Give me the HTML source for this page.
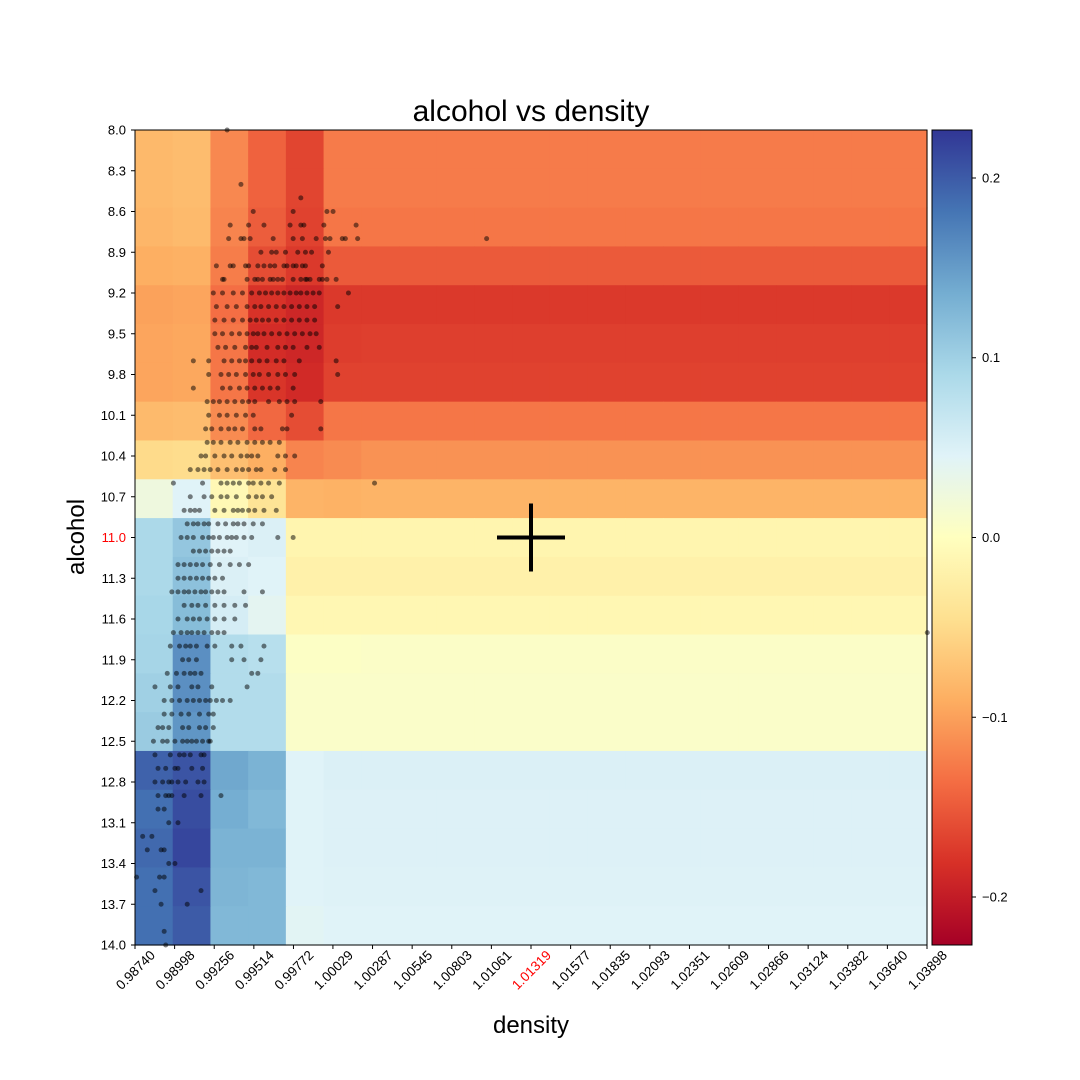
<!DOCTYPE html>
<html><head><meta charset="utf-8"><style>
html,body{margin:0;padding:0;background:#fff;}
svg{display:block;font-family:"Liberation Sans","DejaVu Sans",sans-serif;}
</style></head><body>
<svg id="chart" width="1080" height="1080" viewBox="0 0 1080 1080" xmlns="http://www.w3.org/2000/svg">
<rect width="1080" height="1080" fill="#fff"/>
<text x="531" y="121" font-size="30" text-anchor="middle">alcohol vs density</text>
<text transform="translate(84,537) rotate(-90)" font-size="24" text-anchor="middle">alcohol</text>
<text x="531" y="1033" font-size="24" text-anchor="middle">density</text>
<g id="heat"></g>
<g id="dots"></g>
<g id="axes"></g>
<g id="cbar"></g>
</svg>
<script>
const xTickLabels=["0.98740","0.98998","0.99256","0.99514","0.99772","1.00029","1.00287","1.00545","1.00803","1.01061","1.01319","1.01577","1.01835","1.02093","1.02351","1.02609","1.02866","1.03124","1.03382","1.03640","1.03898"];
const yTickLabels=["8.0","8.3","8.6","8.9","9.2","9.5","9.8","10.1","10.4","10.7","11.0","11.3","11.6","11.9","12.2","12.5","12.8","13.1","13.4","13.7","14.0"];
const cbarTicks=[0.2,0.1,0.0,-0.1,-0.2];
const cbarTickLabels=["0.2","0.1","0.0","\u22120.1","\u22120.2"];
const markerDensity=1.01319;
const markerAlcohol=11.0;
const heatValues=[
[-0.081,-0.078,-0.117,-0.144,-0.166,-0.126,-0.126,-0.126,-0.126,-0.126,-0.126,-0.126,-0.126,-0.126,-0.126,-0.126,-0.126,-0.126,-0.126,-0.126,-0.126],
[-0.081,-0.078,-0.117,-0.144,-0.166,-0.126,-0.126,-0.126,-0.126,-0.126,-0.126,-0.126,-0.126,-0.126,-0.126,-0.126,-0.126,-0.126,-0.126,-0.126,-0.126],
[-0.083,-0.080,-0.120,-0.148,-0.168,-0.130,-0.130,-0.130,-0.130,-0.130,-0.130,-0.130,-0.130,-0.130,-0.130,-0.130,-0.130,-0.130,-0.130,-0.130,-0.130],
[-0.090,-0.088,-0.125,-0.160,-0.175,-0.150,-0.150,-0.150,-0.150,-0.150,-0.150,-0.150,-0.150,-0.150,-0.150,-0.150,-0.150,-0.150,-0.150,-0.150,-0.150],
[-0.099,-0.097,-0.135,-0.180,-0.190,-0.175,-0.175,-0.175,-0.175,-0.175,-0.175,-0.175,-0.175,-0.175,-0.175,-0.175,-0.175,-0.175,-0.175,-0.175,-0.175],
[-0.097,-0.095,-0.130,-0.185,-0.190,-0.172,-0.170,-0.170,-0.170,-0.170,-0.170,-0.170,-0.170,-0.170,-0.170,-0.170,-0.170,-0.170,-0.170,-0.170,-0.170],
[-0.097,-0.095,-0.130,-0.178,-0.187,-0.168,-0.168,-0.168,-0.168,-0.168,-0.168,-0.168,-0.168,-0.168,-0.168,-0.168,-0.168,-0.168,-0.168,-0.168,-0.168],
[-0.080,-0.078,-0.115,-0.140,-0.160,-0.130,-0.130,-0.130,-0.130,-0.130,-0.130,-0.130,-0.130,-0.130,-0.130,-0.130,-0.130,-0.130,-0.130,-0.130,-0.130],
[-0.050,-0.048,-0.075,-0.090,-0.120,-0.115,-0.110,-0.110,-0.110,-0.110,-0.110,-0.110,-0.110,-0.110,-0.110,-0.110,-0.110,-0.110,-0.110,-0.110,-0.110],
[0.025,0.045,-0.010,-0.040,-0.085,-0.087,-0.085,-0.085,-0.085,-0.085,-0.085,-0.085,-0.085,-0.085,-0.085,-0.085,-0.085,-0.085,-0.085,-0.085,-0.085],
[0.090,0.110,0.045,0.050,-0.015,-0.015,-0.015,-0.015,-0.015,-0.015,-0.015,-0.015,-0.015,-0.015,-0.015,-0.015,-0.015,-0.015,-0.015,-0.015,-0.015],
[0.090,0.115,0.050,0.045,-0.020,-0.020,-0.020,-0.020,-0.020,-0.020,-0.020,-0.020,-0.020,-0.020,-0.020,-0.020,-0.020,-0.020,-0.020,-0.020,-0.020],
[0.093,0.120,0.055,0.040,-0.012,-0.012,-0.012,-0.012,-0.012,-0.012,-0.012,-0.012,-0.012,-0.012,-0.012,-0.012,-0.012,-0.012,-0.012,-0.012,-0.012],
[0.095,0.160,0.085,0.080,0.005,0.005,0.006,0.006,0.006,0.006,0.006,0.006,0.006,0.006,0.006,0.006,0.006,0.006,0.006,0.006,0.006],
[0.100,0.160,0.085,0.085,0.008,0.008,0.008,0.008,0.008,0.008,0.008,0.008,0.008,0.008,0.008,0.008,0.008,0.008,0.008,0.008,0.008],
[0.105,0.155,0.085,0.085,0.008,0.008,0.008,0.008,0.008,0.008,0.008,0.008,0.008,0.008,0.008,0.008,0.008,0.008,0.008,0.008,0.008],
[0.195,0.205,0.140,0.130,0.045,0.050,0.050,0.050,0.050,0.050,0.050,0.050,0.050,0.050,0.050,0.050,0.050,0.050,0.050,0.050,0.050],
[0.185,0.210,0.135,0.125,0.045,0.048,0.048,0.048,0.048,0.048,0.048,0.048,0.048,0.048,0.048,0.048,0.048,0.048,0.048,0.048,0.048],
[0.190,0.215,0.130,0.130,0.045,0.048,0.048,0.048,0.048,0.048,0.048,0.048,0.048,0.048,0.048,0.048,0.048,0.048,0.048,0.048,0.048],
[0.185,0.205,0.128,0.125,0.045,0.047,0.047,0.047,0.047,0.047,0.047,0.047,0.047,0.047,0.047,0.047,0.047,0.047,0.047,0.047,0.047],
[0.185,0.200,0.125,0.125,0.042,0.045,0.045,0.045,0.045,0.045,0.045,0.045,0.045,0.045,0.045,0.045,0.045,0.045,0.045,0.045,0.045]
];
const alcoholLevels=[8.0,8.4,8.5,8.6,8.7,8.8,8.9,9.0,9.1,9.2,9.3,9.4,9.5,9.6,9.7,9.8,9.9,10.0,10.1,10.2,10.3,10.4,10.5,10.6,10.7,10.8,10.9,11.0,11.1,11.2,11.3,11.4,11.5,11.6,11.7,11.8,11.9,12.0,12.1,12.2,12.3,12.4,12.5,12.6,12.7,12.8,12.9,13.0,13.1,13.2,13.3,13.4,13.5,13.6,13.7,13.9,14.0];
const densityByLevel=[
[0.9934],[0.9943],[0.9982],
[0.9951,0.9977,0.9999,1.0003],
[0.9936,0.9948,0.9958,0.9975,0.9982,0.9984,0.9997,1.0018],
[0.9935,0.9943,0.9945,0.9949,0.9964,0.9977,0.9983,0.9992,0.9998,1.0001,1.0009,1.0011,1.0019,1.0103],
[0.9956,0.9963,0.9966,0.9972,0.9980,0.9985,0.9989,1.0000],
[0.9927,0.9936,0.9938,0.9946,0.9948,0.9954,0.9958,0.9962,0.9965,0.9971,0.9973,0.9977,0.9979,0.9983,0.9985,0.9996],
[0.9931,0.9932,0.9947,0.9952,0.9954,0.9957,0.9962,0.9964,0.9967,0.9970,0.9977,0.9982,0.9985,0.9986,0.9988,0.9994,0.9996,0.9999,1.0005],
[0.9925,0.9931,0.9938,0.9944,0.9950,0.9955,0.9959,0.9963,0.9967,0.9971,0.9975,0.9979,0.9982,0.9986,0.9990,0.9994,1.0013],
[0.9927,0.9934,0.9940,0.9947,0.9952,0.9956,0.9961,0.9966,0.9971,0.9976,0.9981,0.9986,0.9991,1.0006],
[0.9926,0.9932,0.9938,0.9944,0.9949,0.9953,0.9957,0.9961,0.9966,0.9971,0.9976,0.9981,0.9986,0.9991],
[0.9926,0.9931,0.9937,0.9942,0.9947,0.9951,0.9954,0.9958,0.9963,0.9968,0.9973,0.9978,0.9983,0.9988,0.9992],
[0.9928,0.9933,0.9939,0.9946,0.9950,0.9953,0.9960,0.9967,0.9972,0.9977,0.9986,0.9994],
[0.9912,0.9922,0.9932,0.9937,0.9942,0.9946,0.9950,0.9955,0.9960,0.9966,0.9971,0.9981,1.0005],
[0.9922,0.9930,0.9935,0.9940,0.9946,0.9951,0.9955,0.9961,0.9967,0.9972,0.9978,1.0006],
[0.9912,0.9931,0.9936,0.9942,0.9947,0.9952,0.9957,0.9962,0.9967,0.9977],
[0.9921,0.9925,0.9929,0.9934,0.9939,0.9944,0.9948,0.9952,0.9961,0.9968,0.9973,0.9978,0.9995],
[0.9922,0.9929,0.9934,0.9940,0.9946,0.9951,0.9976],
[0.9920,0.9924,0.9930,0.9935,0.9939,0.9944,0.9952,0.9956,0.9970,0.9973,0.9995],
[0.9921,0.9925,0.9930,0.9936,0.9941,0.9947,0.9952,0.9957,0.9962,0.9968],
[0.9917,0.9920,0.9926,0.9932,0.9937,0.9943,0.9947,0.9950,0.9954,0.9967,0.9972,0.9978],
[0.9910,0.9915,0.9919,0.9923,0.9928,0.9934,0.9940,0.9944,0.9948,0.9953,0.9956,0.9965,0.9972],
[0.9899,0.9918,0.9930,0.9934,0.9938,0.9942,0.9948,0.9951,0.9956,0.9961,0.9968,1.0030],
[0.9910,0.9919,0.9924,0.9930,0.9934,0.9940,0.9948,0.9953,0.9957,0.9963],
[0.9906,0.9910,0.9913,0.9916,0.9926,0.9932,0.9938,0.9941,0.9944,0.9948,0.9952,0.9958,0.9966],
[0.9908,0.9912,0.9915,0.9919,0.9922,0.9928,0.9933,0.9938,0.9941,0.9945,0.9951,0.9957],
[0.9904,0.9908,0.9912,0.9918,0.9922,0.9925,0.9929,0.9934,0.9937,0.9940,0.9945,0.9950,0.9967,0.9977],
[0.9912,0.9916,0.9920,0.9924,0.9928,0.9932,0.9936],
[0.9902,0.9906,0.9910,0.9914,0.9918,0.9923,0.9929,0.9936,0.9942,0.9948],
[0.9902,0.9906,0.9910,0.9914,0.9918,0.9922,0.9926,0.9931],
[0.9898,0.9902,0.9906,0.9909,0.9913,0.9917,0.9920,0.9924,0.9928,0.9932,0.9945,0.9957],
[0.9906,0.9911,0.9915,0.9920,0.9926,0.9932,0.9939,0.9946],
[0.9902,0.9908,0.9912,0.9916,0.9921,0.9926,0.9932,0.9939],
[0.9899,0.9904,0.9908,0.9911,0.9915,0.9919,0.9924,0.9928,0.9932,1.0390],
[0.9897,0.9903,0.9907,0.9910,0.9914,0.9921,0.9926,0.9937,0.9943,0.9958],
[0.9905,0.9909,0.9914,0.9937,0.9945,0.9956],
[0.9895,0.9901,0.9906,0.9910,0.9913,0.9917,0.9950,0.9954],
[0.9887,0.9897,0.9902,0.9911,0.9915,0.9924,0.9947],
[0.9893,0.9898,0.9903,0.9908,0.9912,0.9916,0.9920,0.9923,0.9927,0.9931,0.9936],
[0.9893,0.9898,0.9904,0.9909,0.9916,0.9922,0.9925],
[0.9889,0.9892,0.9896,0.9905,0.9909,0.9916,0.9920,0.9925],
[0.9886,0.9892,0.9895,0.9900,0.9905,0.9908,0.9911,0.9914,0.9918,0.9922,0.9923],
[0.9887,0.9897,0.9903,0.9906,0.9910,0.9917,0.9919],
[0.9889,0.9894,0.9900,0.9902,0.9911,0.9918],
[0.9887,0.9892,0.9896,0.9898,0.9902,0.9907,0.9915,0.9919],
[0.9889,0.9894,0.9896,0.9898,0.9906,0.9917,0.9930],
[0.9889,0.9893],[0.9896,0.9902],[0.9879,0.9885],[0.9882,0.9891,0.9893],[0.9896,0.9900],
[0.9875,0.9890,0.9893],[0.9887,0.9917],[0.9891,0.9908],[0.9893],[0.9894]
];

const NS="http://www.w3.org/2000/svg";
const PL=135,PR=927,PT=130,PB=945;
const X0=0.98740,X1=1.03898,Y0=8.0,Y1=14.0,VMIN=-0.2267,VMAX=0.2267;
function xScale(d){return PL+(d-X0)/(X1-X0)*(PR-PL);}
function yScale(a){return PT+(a-Y0)/(Y1-Y0)*(PB-PT);}
const stops=["#a50026","#d73027","#f46d43","#fdae61","#fee090","#ffffbf","#e0f3f8","#abd9e9","#74add1","#4575b4","#313695"];
function hex(h){return [1,3,5].map(i=>parseInt(h.substr(i,2),16));}
function cmap(v){let t=(v-VMIN)/(VMAX-VMIN);t=Math.max(0,Math.min(1,t));const p=t*10,i=Math.min(9,Math.floor(p)),f=p-i;const a=hex(stops[i]),b=hex(stops[i+1]);return "rgb("+a.map((c,k)=>Math.round(c+(b[k]-c)*f)).join(",")+")";}
function mk(tag,attrs,parent){const e=document.createElementNS(NS,tag);for(const k in attrs)e.setAttribute(k,attrs[k]);parent.appendChild(e);return e;}

const heat=document.getElementById('heat');
const nR=heatValues.length,nC=heatValues[0].length;
const cw=(PR-PL)/nC,ch=(PB-PT)/nR;
for(let r=0;r<nR;r++)for(let c=0;c<nC;c++){
  const e=mk('rect',{x:PL+c*cw,y:PT+r*ch,width:cw+0.6,height:ch+0.6,fill:cmap(heatValues[r][c])},heat);
  
  
}
const dots=document.getElementById('dots');
alcoholLevels.forEach((a,i)=>{densityByLevel[i].forEach(d=>{
  const e=mk('circle',{cx:xScale(d),cy:yScale(a),r:2.5,fill:'#000','fill-opacity':0.5},dots);
  
  
});});

const axes=document.getElementById('axes');
const cx=xScale(markerDensity),cy=yScale(markerAlcohol);
const m1=mk('line',{x1:cx-34,y1:cy,x2:cx+34,y2:cy,stroke:'#000','stroke-width':4},axes);


const m2=mk('line',{x1:cx,y1:cy-34,x2:cx,y2:cy+34,stroke:'#000','stroke-width':4},axes);


const frame=mk('rect',{x:PL,y:PT,width:PR-PL,height:PB-PT,fill:'none',stroke:'#000','stroke-width':1},axes);


xTickLabels.forEach(l=>{
  const x=xScale(parseFloat(l));
  mk('line',{x1:x,y1:PB,x2:x,y2:PB+4,stroke:'#000'},axes);
  const t=mk('text',{transform:`translate(${x+21},${PB+11}) rotate(-45)`,'font-size':13.5,'text-anchor':'end',fill:(parseFloat(l)===markerDensity?'#f00':'#000')},axes);
  t.textContent=l;
  
  
});
yTickLabels.forEach((l,i)=>{
  const y=PT+i*(PB-PT)/(yTickLabels.length-1);
  mk('line',{x1:PL-4,y1:y,x2:PL,y2:y,stroke:'#000'},axes);
  const t=mk('text',{x:PL-9,y:y+4.5,'font-size':13,'text-anchor':'end',fill:(parseFloat(l)===markerAlcohol?'#f00':'#000')},axes);
  t.textContent=l;
  
  
});

const cbar=document.getElementById('cbar');
const CL=932,CR=972;
const defs=mk('defs',{},cbar);
const g=mk('linearGradient',{id:'cg',x1:0,y1:1,x2:0,y2:0},defs);
stops.forEach((s,i)=>mk('stop',{offset:i/10,'stop-color':s},g));
mk('rect',{x:CL,y:PT,width:CR-CL,height:PB-PT,fill:'url(#cg)',stroke:'#000','stroke-width':1},cbar);
function cScale(v){return PT+(VMAX-v)/(VMAX-VMIN)*(PB-PT);}
cbarTicks.forEach((v,i)=>{
  const y=cScale(v);
  mk('line',{x1:CR,y1:y,x2:CR+4,y2:y,stroke:'#000'},cbar);
  const t=mk('text',{x:CR+10,y:y+4.5,'font-size':13},cbar);
  t.textContent=cbarTickLabels[i];
  
  
});
</script>
</body></html>
